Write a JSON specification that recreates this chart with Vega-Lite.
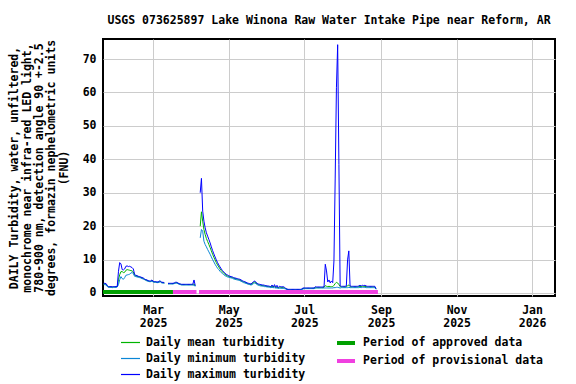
{
  "$schema": "https://vega.github.io/schema/vega-lite/v6.json",
  "width": 452,
  "height": 257,
  "autosize": {"type": "none"},
  "padding": {"left": 103, "top": 39, "right": 21, "bottom": 88},
  "title": {"text": "USGS 073625897 Lake Winona Raw Water Intake Pipe near Reform, AR", "font": "DejaVu Sans Mono", "fontSize": 11.5, "fontWeight": "bold", "color": "black", "anchor": "middle", "offset": 13},
  "config": {
    "view": {"stroke": "black", "strokeWidth": 2},
    "font": "DejaVu Sans Mono",
    "axisY": {
      "values": [0, 10, 20, 30, 40, 50, 60, 70],
      "titleFont": "DejaVu Sans Mono", "titleFontWeight": "bold", "titleFontSize": 11.5,
      "titleColor": "black", "titleLineHeight": 12.3, "titlePadding": 13,
      "grid": true, "gridColor": "#cccccc", "gridWidth": 1,
      "ticks": false, "domain": false, "labelOverlap": false,
      "labelFont": "DejaVu Sans Mono", "labelFontWeight": "bold", "labelFontSize": 11.5,
      "labelColor": "black", "labelPadding": 7
    }
  },
  "datasets": {
    "daily": [
      {"d":"2025/01/20","mean":2.7,"min":2.5,"max":2.9,"s":1},
      {"d":"2025/01/21","mean":2.7,"min":2.5,"max":2.9,"s":1},
      {"d":"2025/01/22","mean":2.6,"min":2.4,"max":2.8,"s":1},
      {"d":"2025/01/23","mean":2.0,"min":1.9,"max":2.2,"s":1},
      {"d":"2025/01/24","mean":1.8,"min":1.7,"max":1.9,"s":1},
      {"d":"2025/01/25","mean":1.8,"min":1.7,"max":1.9,"s":1},
      {"d":"2025/01/26","mean":1.8,"min":1.7,"max":1.9,"s":1},
      {"d":"2025/01/27","mean":1.7,"min":1.6,"max":1.9,"s":1},
      {"d":"2025/01/28","mean":1.8,"min":1.7,"max":1.9,"s":1},
      {"d":"2025/01/29","mean":1.8,"min":1.7,"max":1.9,"s":1},
      {"d":"2025/01/30","mean":1.8,"min":1.7,"max":1.9,"s":1},
      {"d":"2025/01/31","mean":1.9,"min":1.8,"max":2.0,"s":1},
      {"d":"2025/02/01","mean":4.0,"min":2.5,"max":6.5,"s":1},
      {"d":"2025/02/02","mean":5.5,"min":4.0,"max":9.1,"s":1},
      {"d":"2025/02/03","mean":6.4,"min":4.9,"max":8.7,"s":1},
      {"d":"2025/02/04","mean":6.4,"min":4.3,"max":7.0,"s":1},
      {"d":"2025/02/05","mean":6.1,"min":4.1,"max":6.9,"s":1},
      {"d":"2025/02/06","mean":6.2,"min":4.6,"max":7.2,"s":1},
      {"d":"2025/02/07","mean":6.8,"min":5.3,"max":8.0,"s":1},
      {"d":"2025/02/08","mean":7.0,"min":5.4,"max":8.1,"s":1},
      {"d":"2025/02/09","mean":6.9,"min":5.5,"max":7.9,"s":1},
      {"d":"2025/02/10","mean":6.8,"min":5.6,"max":8.0,"s":1},
      {"d":"2025/02/11","mean":6.7,"min":6.0,"max":7.8,"s":1},
      {"d":"2025/02/12","mean":6.6,"min":6.1,"max":7.6,"s":1},
      {"d":"2025/02/13","mean":6.3,"min":5.8,"max":7.2,"s":1},
      {"d":"2025/02/14","mean":5.3,"min":5.0,"max":5.6,"s":1},
      {"d":"2025/02/15","mean":5.1,"min":4.9,"max":5.3,"s":1},
      {"d":"2025/02/16","mean":5.0,"min":4.8,"max":5.2,"s":1},
      {"d":"2025/02/17","mean":4.9,"min":4.7,"max":5.0,"s":1},
      {"d":"2025/02/18","mean":4.8,"min":4.6,"max":4.9,"s":1},
      {"d":"2025/02/19","mean":4.6,"min":4.5,"max":4.8,"s":1},
      {"d":"2025/02/20","mean":4.5,"min":4.3,"max":4.6,"s":1},
      {"d":"2025/02/21","mean":4.3,"min":4.2,"max":4.5,"s":1},
      {"d":"2025/02/22","mean":4.1,"min":4.0,"max":4.2,"s":1},
      {"d":"2025/02/23","mean":3.9,"min":3.8,"max":4.0,"s":1},
      {"d":"2025/02/24","mean":3.8,"min":3.6,"max":3.9,"s":1},
      {"d":"2025/02/25","mean":3.6,"min":3.5,"max":3.7,"s":1},
      {"d":"2025/02/26","mean":3.5,"min":3.4,"max":3.6,"s":1},
      {"d":"2025/02/27","mean":3.5,"min":3.4,"max":3.6,"s":1},
      {"d":"2025/02/28","mean":3.7,"min":3.5,"max":3.9,"s":1},
      {"d":"2025/03/01","mean":3.4,"min":3.3,"max":3.5,"s":1},
      {"d":"2025/03/02","mean":3.3,"min":3.2,"max":3.4,"s":1},
      {"d":"2025/03/03","mean":3.3,"min":3.2,"max":3.4,"s":1},
      {"d":"2025/03/04","mean":3.2,"min":3.1,"max":3.3,"s":1},
      {"d":"2025/03/05","mean":3.2,"min":3.1,"max":3.3,"s":1},
      {"d":"2025/03/06","mean":3.4,"min":3.2,"max":3.6,"s":1},
      {"d":"2025/03/07","mean":3.4,"min":3.3,"max":3.5,"s":1},
      {"d":"2025/03/08","mean":3.1,"min":3.0,"max":3.2,"s":1},
      {"d":"2025/03/09","mean":3.1,"min":3.0,"max":3.2,"s":1},
      {"d":"2025/03/10","mean":3.0,"min":2.9,"max":3.1,"s":1},
      {"d":"2025/03/13","mean":2.8,"min":2.7,"max":2.9,"s":2},
      {"d":"2025/03/14","mean":2.8,"min":2.7,"max":2.9,"s":2},
      {"d":"2025/03/15","mean":2.8,"min":2.7,"max":2.9,"s":2},
      {"d":"2025/03/16","mean":2.8,"min":2.7,"max":2.9,"s":2},
      {"d":"2025/03/17","mean":2.8,"min":2.7,"max":2.9,"s":2},
      {"d":"2025/03/18","mean":2.9,"min":2.8,"max":3.0,"s":2},
      {"d":"2025/03/19","mean":3.0,"min":2.9,"max":3.2,"s":2},
      {"d":"2025/03/20","mean":3.1,"min":2.9,"max":3.2,"s":2},
      {"d":"2025/03/21","mean":2.9,"min":2.8,"max":3.0,"s":2},
      {"d":"2025/03/22","mean":2.7,"min":2.6,"max":2.8,"s":2},
      {"d":"2025/03/23","mean":2.6,"min":2.5,"max":2.7,"s":2},
      {"d":"2025/03/24","mean":2.5,"min":2.4,"max":2.6,"s":2},
      {"d":"2025/03/25","mean":2.5,"min":2.4,"max":2.6,"s":2},
      {"d":"2025/03/26","mean":2.5,"min":2.4,"max":2.6,"s":2},
      {"d":"2025/03/27","mean":2.5,"min":2.4,"max":2.6,"s":2},
      {"d":"2025/03/28","mean":2.5,"min":2.4,"max":2.6,"s":2},
      {"d":"2025/03/29","mean":2.5,"min":2.4,"max":2.6,"s":2},
      {"d":"2025/03/30","mean":2.5,"min":2.4,"max":2.6,"s":2},
      {"d":"2025/03/31","mean":2.5,"min":2.4,"max":2.6,"s":2},
      {"d":"2025/04/01","mean":2.5,"min":2.4,"max":2.6,"s":2},
      {"d":"2025/04/02","mean":2.5,"min":2.4,"max":2.6,"s":2},
      {"d":"2025/04/03","mean":2.7,"min":2.3,"max":3.9,"s":2},
      {"d":"2025/04/04","mean":2.1,"min":2.0,"max":2.2,"s":2},
      {"d":"2025/04/08","mean":20.0,"min":16.5,"max":30.0,"s":3},
      {"d":"2025/04/09","mean":24.3,"min":19.0,"max":34.3,"s":3},
      {"d":"2025/04/10","mean":21.5,"min":18.5,"max":24.5,"s":3},
      {"d":"2025/04/11","mean":19.0,"min":15.5,"max":21.5,"s":3},
      {"d":"2025/04/12","mean":17.5,"min":14.5,"max":19.5,"s":3},
      {"d":"2025/04/13","mean":16.3,"min":13.8,"max":18.0,"s":3},
      {"d":"2025/04/14","mean":15.4,"min":13.0,"max":17.0,"s":3},
      {"d":"2025/04/15","mean":14.5,"min":12.3,"max":16.0,"s":3},
      {"d":"2025/04/16","mean":13.6,"min":11.6,"max":15.0,"s":3},
      {"d":"2025/04/17","mean":12.6,"min":10.8,"max":13.8,"s":3},
      {"d":"2025/04/18","mean":11.6,"min":10.0,"max":12.7,"s":3},
      {"d":"2025/04/19","mean":10.7,"min":9.3,"max":11.7,"s":3},
      {"d":"2025/04/20","mean":9.9,"min":8.6,"max":10.8,"s":3},
      {"d":"2025/04/21","mean":9.1,"min":8.0,"max":9.9,"s":3},
      {"d":"2025/04/22","mean":8.4,"min":7.4,"max":9.1,"s":3},
      {"d":"2025/04/23","mean":7.8,"min":7.0,"max":8.4,"s":3},
      {"d":"2025/04/24","mean":7.2,"min":6.5,"max":7.8,"s":3},
      {"d":"2025/04/25","mean":6.7,"min":6.1,"max":7.2,"s":3},
      {"d":"2025/04/26","mean":6.3,"min":5.8,"max":6.7,"s":3},
      {"d":"2025/04/27","mean":5.9,"min":5.5,"max":6.3,"s":3},
      {"d":"2025/04/28","mean":5.6,"min":5.2,"max":5.9,"s":3},
      {"d":"2025/04/29","mean":5.3,"min":5.0,"max":5.6,"s":3},
      {"d":"2025/04/30","mean":5.1,"min":4.8,"max":5.4,"s":3},
      {"d":"2025/05/01","mean":4.9,"min":4.7,"max":5.2,"s":3},
      {"d":"2025/05/02","mean":4.8,"min":4.6,"max":5.0,"s":3},
      {"d":"2025/05/03","mean":4.7,"min":4.5,"max":4.9,"s":3},
      {"d":"2025/05/04","mean":4.6,"min":4.4,"max":4.8,"s":3},
      {"d":"2025/05/05","mean":4.4,"min":4.2,"max":4.6,"s":3},
      {"d":"2025/05/06","mean":4.3,"min":4.1,"max":4.5,"s":3},
      {"d":"2025/05/07","mean":4.2,"min":4.0,"max":4.4,"s":3},
      {"d":"2025/05/08","mean":4.1,"min":3.9,"max":4.3,"s":3},
      {"d":"2025/05/09","mean":4.0,"min":3.8,"max":4.2,"s":3},
      {"d":"2025/05/10","mean":3.9,"min":3.7,"max":4.1,"s":3},
      {"d":"2025/05/11","mean":3.7,"min":3.5,"max":3.9,"s":3},
      {"d":"2025/05/12","mean":3.5,"min":3.3,"max":3.7,"s":3},
      {"d":"2025/05/13","mean":3.3,"min":3.1,"max":3.5,"s":3},
      {"d":"2025/05/14","mean":3.2,"min":3.0,"max":3.4,"s":3},
      {"d":"2025/05/15","mean":3.0,"min":2.9,"max":3.2,"s":3},
      {"d":"2025/05/16","mean":2.9,"min":2.7,"max":3.0,"s":3},
      {"d":"2025/05/17","mean":2.7,"min":2.6,"max":2.9,"s":3},
      {"d":"2025/05/18","mean":2.6,"min":2.5,"max":2.8,"s":3},
      {"d":"2025/05/19","mean":2.5,"min":2.4,"max":2.7,"s":3},
      {"d":"2025/05/20","mean":2.8,"min":2.5,"max":3.0,"s":3},
      {"d":"2025/05/21","mean":3.1,"min":2.8,"max":3.4,"s":3},
      {"d":"2025/05/22","mean":3.3,"min":3.0,"max":3.6,"s":3},
      {"d":"2025/05/23","mean":3.0,"min":2.8,"max":3.2,"s":3},
      {"d":"2025/05/24","mean":2.7,"min":2.5,"max":2.9,"s":3},
      {"d":"2025/05/25","mean":2.5,"min":2.3,"max":2.7,"s":3},
      {"d":"2025/05/26","mean":2.4,"min":2.2,"max":2.6,"s":3},
      {"d":"2025/05/27","mean":2.3,"min":2.1,"max":2.5,"s":3},
      {"d":"2025/05/28","mean":2.2,"min":2.1,"max":2.4,"s":3},
      {"d":"2025/05/29","mean":2.2,"min":2.0,"max":2.4,"s":3},
      {"d":"2025/05/30","mean":2.1,"min":1.9,"max":2.3,"s":3},
      {"d":"2025/05/31","mean":2.0,"min":1.9,"max":2.2,"s":3},
      {"d":"2025/06/01","mean":2.0,"min":1.8,"max":2.1,"s":3},
      {"d":"2025/06/02","mean":1.9,"min":1.8,"max":2.1,"s":3},
      {"d":"2025/06/03","mean":1.9,"min":1.7,"max":2.0,"s":3},
      {"d":"2025/06/04","mean":1.8,"min":1.6,"max":1.9,"s":3},
      {"d":"2025/06/05","mean":2.0,"min":1.7,"max":2.4,"s":3},
      {"d":"2025/06/06","mean":1.7,"min":1.6,"max":1.8,"s":3},
      {"d":"2025/06/07","mean":2.0,"min":1.6,"max":2.5,"s":3},
      {"d":"2025/06/08","mean":1.6,"min":1.5,"max":1.7,"s":3},
      {"d":"2025/06/09","mean":1.8,"min":1.5,"max":2.3,"s":3},
      {"d":"2025/06/10","mean":1.5,"min":1.4,"max":1.6,"s":3},
      {"d":"2025/06/11","mean":1.7,"min":1.4,"max":2.0,"s":3},
      {"d":"2025/06/12","mean":1.6,"min":1.4,"max":1.9,"s":3},
      {"d":"2025/06/13","mean":1.6,"min":1.4,"max":1.8,"s":3},
      {"d":"2025/06/14","mean":1.6,"min":1.4,"max":1.9,"s":3},
      {"d":"2025/06/15","mean":1.5,"min":1.3,"max":1.7,"s":3},
      {"d":"2025/06/16","mean":1.3,"min":1.2,"max":1.4,"s":3},
      {"d":"2025/06/17","mean":1.1,"min":1.0,"max":1.2,"s":3},
      {"d":"2025/06/18","mean":1.0,"min":0.9,"max":1.1,"s":3},
      {"d":"2025/06/19","mean":1.0,"min":0.9,"max":1.1,"s":3},
      {"d":"2025/06/20","mean":1.0,"min":0.9,"max":1.1,"s":3},
      {"d":"2025/06/21","mean":1.0,"min":0.9,"max":1.1,"s":3},
      {"d":"2025/06/22","mean":1.0,"min":0.9,"max":1.1,"s":3},
      {"d":"2025/06/23","mean":1.0,"min":0.9,"max":1.1,"s":3},
      {"d":"2025/06/24","mean":1.0,"min":0.9,"max":1.1,"s":3},
      {"d":"2025/06/25","mean":1.0,"min":0.9,"max":1.1,"s":3},
      {"d":"2025/06/26","mean":1.0,"min":0.9,"max":1.1,"s":3},
      {"d":"2025/06/27","mean":1.0,"min":0.9,"max":1.1,"s":3},
      {"d":"2025/06/28","mean":1.0,"min":0.9,"max":1.1,"s":3},
      {"d":"2025/06/29","mean":1.1,"min":1.0,"max":1.2,"s":3},
      {"d":"2025/06/30","mean":1.3,"min":1.2,"max":1.5,"s":3},
      {"d":"2025/07/01","mean":1.4,"min":1.3,"max":1.5,"s":3},
      {"d":"2025/07/02","mean":1.4,"min":1.3,"max":1.5,"s":3},
      {"d":"2025/07/03","mean":1.4,"min":1.3,"max":1.5,"s":3},
      {"d":"2025/07/04","mean":1.4,"min":1.3,"max":1.5,"s":3},
      {"d":"2025/07/05","mean":1.4,"min":1.3,"max":1.5,"s":3},
      {"d":"2025/07/06","mean":1.4,"min":1.3,"max":1.5,"s":3},
      {"d":"2025/07/07","mean":1.4,"min":1.3,"max":1.5,"s":3},
      {"d":"2025/07/08","mean":1.4,"min":1.3,"max":1.5,"s":3},
      {"d":"2025/07/09","mean":1.4,"min":1.3,"max":1.5,"s":3},
      {"d":"2025/07/10","mean":1.6,"min":1.4,"max":1.9,"s":3},
      {"d":"2025/07/11","mean":1.6,"min":1.5,"max":1.8,"s":3},
      {"d":"2025/07/12","mean":1.6,"min":1.5,"max":1.8,"s":3},
      {"d":"2025/07/13","mean":1.6,"min":1.5,"max":1.8,"s":3},
      {"d":"2025/07/14","mean":1.6,"min":1.5,"max":1.8,"s":3},
      {"d":"2025/07/15","mean":1.6,"min":1.5,"max":1.8,"s":3},
      {"d":"2025/07/16","mean":1.6,"min":1.5,"max":1.8,"s":3},
      {"d":"2025/07/17","mean":1.7,"min":1.5,"max":1.9,"s":3},
      {"d":"2025/07/18","mean":2.2,"min":1.5,"max":8.6,"s":3},
      {"d":"2025/07/19","mean":2.0,"min":1.5,"max":6.6,"s":3},
      {"d":"2025/07/20","mean":1.9,"min":1.5,"max":3.3,"s":3},
      {"d":"2025/07/21","mean":2.0,"min":1.5,"max":3.9,"s":3},
      {"d":"2025/07/22","mean":1.9,"min":1.5,"max":3.0,"s":3},
      {"d":"2025/07/23","mean":1.9,"min":1.5,"max":3.6,"s":3},
      {"d":"2025/07/24","mean":1.9,"min":1.5,"max":3.1,"s":3},
      {"d":"2025/07/25","mean":2.3,"min":1.6,"max":9.6,"s":3},
      {"d":"2025/07/26","mean":2.8,"min":1.6,"max":34.4,"s":3},
      {"d":"2025/07/27","mean":3.2,"min":1.7,"max":61.4,"s":3},
      {"d":"2025/07/28","mean":3.0,"min":1.7,"max":74.3,"s":3},
      {"d":"2025/07/29","mean":2.5,"min":1.6,"max":38.4,"s":3},
      {"d":"2025/07/30","mean":1.9,"min":1.5,"max":2.2,"s":3},
      {"d":"2025/07/31","mean":1.8,"min":1.6,"max":2.0,"s":3},
      {"d":"2025/08/01","mean":1.8,"min":1.6,"max":2.0,"s":3},
      {"d":"2025/08/02","mean":1.8,"min":1.6,"max":2.0,"s":3},
      {"d":"2025/08/03","mean":1.8,"min":1.6,"max":2.0,"s":3},
      {"d":"2025/08/04","mean":1.8,"min":1.6,"max":2.1,"s":3},
      {"d":"2025/08/05","mean":2.2,"min":1.6,"max":9.9,"s":3},
      {"d":"2025/08/06","mean":2.4,"min":1.7,"max":12.6,"s":3},
      {"d":"2025/08/07","mean":1.9,"min":1.6,"max":2.2,"s":3},
      {"d":"2025/08/08","mean":1.8,"min":1.6,"max":2.0,"s":3},
      {"d":"2025/08/09","mean":1.8,"min":1.6,"max":2.0,"s":3},
      {"d":"2025/08/10","mean":1.8,"min":1.6,"max":2.0,"s":3},
      {"d":"2025/08/11","mean":1.8,"min":1.6,"max":2.0,"s":3},
      {"d":"2025/08/12","mean":1.8,"min":1.6,"max":2.0,"s":3},
      {"d":"2025/08/13","mean":1.8,"min":1.6,"max":2.0,"s":3},
      {"d":"2025/08/14","mean":1.9,"min":1.6,"max":2.1,"s":3},
      {"d":"2025/08/15","mean":2.0,"min":1.7,"max":2.3,"s":3},
      {"d":"2025/08/16","mean":1.9,"min":1.6,"max":2.1,"s":3},
      {"d":"2025/08/17","mean":2.0,"min":1.7,"max":2.3,"s":3},
      {"d":"2025/08/18","mean":1.9,"min":1.7,"max":2.2,"s":3},
      {"d":"2025/08/19","mean":2.0,"min":1.7,"max":2.3,"s":3},
      {"d":"2025/08/20","mean":1.9,"min":1.6,"max":2.1,"s":3},
      {"d":"2025/08/21","mean":1.8,"min":1.6,"max":2.0,"s":3},
      {"d":"2025/08/22","mean":1.8,"min":1.6,"max":2.0,"s":3},
      {"d":"2025/08/23","mean":1.8,"min":1.6,"max":2.0,"s":3},
      {"d":"2025/08/24","mean":1.8,"min":1.6,"max":2.0,"s":3},
      {"d":"2025/08/25","mean":1.8,"min":1.6,"max":2.0,"s":3},
      {"d":"2025/08/26","mean":1.8,"min":1.6,"max":2.0,"s":3},
      {"d":"2025/08/27","mean":1.8,"min":1.6,"max":2.0,"s":3},
      {"d":"2025/08/28","mean":1.2,"min":1.1,"max":1.3,"s":3}
    ],
    "periods": [
      {"p":"approved","start":"2025/01/19 12:00","end":"2025/03/17"},
      {"p":"provisional","start":"2025/03/17","end":"2025/04/05"},
      {"p":"provisional","start":"2025/04/07","end":"2025/08/29 12:00"}
    ]
  },
  "layer": [
    {
      "data": {"name": "daily"},
      "transform": [{"fold": ["mean", "min", "max"], "as": ["stat", "value"]}],
      "mark": {"type": "line", "strokeWidth": 1},
      "encoding": {
        "x": {
          "field": "d", "type": "temporal",
          "scale": {"domain": [{"year": 2025, "month": 1, "date": 19, "hours": 12}, {"year": 2026, "month": 1, "date": 19, "hours": 12}]},
          "axis": {
            "title": null,
            "values": [
              {"year": 2025, "month": 3, "date": 1},
              {"year": 2025, "month": 5, "date": 1},
              {"year": 2025, "month": 7, "date": 1},
              {"year": 2025, "month": 9, "date": 1},
              {"year": 2025, "month": 11, "date": 1},
              {"year": 2026, "month": 1, "date": 1}
            ],
            "labelExpr": "[timeFormat(datum.value, '%b'), timeFormat(datum.value, '%Y')]",
            "grid": true, "gridColor": "#cccccc", "gridWidth": 1,
            "ticks": false, "domain": false,
            "labelFont": "DejaVu Sans Mono", "labelFontWeight": "bold", "labelFontSize": 11.5,
            "labelColor": "black", "labelLineHeight": 13, "labelPadding": 8, "labelFlush": false
          }
        },
        "y": {
          "field": "value", "type": "quantitative",
          "scale": {"domain": [-0.9, 76], "nice": false, "zero": false},
          "axis": {
            "values": [0, 10, 20, 30, 40, 50, 60, 70],
            "title": ["DAILY Turbidity, water, unfiltered,", "monochrome near infra-red LED light,", "780-900 nm, detection angle 90 +-2.5", "degrees, formazin nephelometric units", "(FNU)"]
          }
        },
        "color": {
          "field": "stat", "type": "nominal",
          "scale": {"domain": ["mean", "min", "max"], "range": ["#00b400", "#0a86d6", "#0000ff"]},
          "legend": {
            "orient": "none", "legendX": 17, "legendY": 293, "direction": "vertical",
            "title": null, "symbolType": "stroke", "symbolSize": 361, "symbolStrokeWidth": 1.2,
            "labelExpr": "datum.label == 'mean' ? 'Daily mean turbidity' : datum.label == 'min' ? 'Daily minimum turbidity' : 'Daily maximum turbidity'",
            "labelFont": "DejaVu Sans Mono", "labelFontWeight": "bold", "labelFontSize": 11.5,
            "labelColor": "black", "labelOffset": 5, "labelLimit": 300, "rowPadding": 0, "padding": 0
          }
        },
        "detail": {"field": "s", "type": "nominal"}
      }
    },
    {
      "data": {"name": "periods"},
      "mark": {"type": "rule", "strokeWidth": 4},
      "encoding": {
        "x": {"field": "start", "type": "temporal"},
        "x2": {"field": "end"},
        "y": {"datum": 0.3, "type": "quantitative", "axis": {"values": [0, 10, 20, 30, 40, 50, 60, 70]}},
        "color": {
          "field": "p", "type": "nominal",
          "scale": {"domain": ["approved", "provisional"], "range": ["#00a000", "#f040e0"]},
          "legend": {
            "orient": "none", "legendX": 233, "legendY": 294, "direction": "vertical",
            "title": null, "symbolType": "M-1.125,0H1.125", "symbolSize": 256, "symbolStrokeWidth": 4,
            "labelExpr": "datum.label == 'approved' ? 'Period of approved data' : 'Period of provisional data'",
            "labelFont": "DejaVu Sans Mono", "labelFontWeight": "bold", "labelFontSize": 11.5,
            "labelColor": "black", "labelOffset": 7, "labelLimit": 300, "rowPadding": 0, "padding": 0
          }
        }
      }
    }
  ],
  "resolve": {"scale": {"color": "independent"}}
}
